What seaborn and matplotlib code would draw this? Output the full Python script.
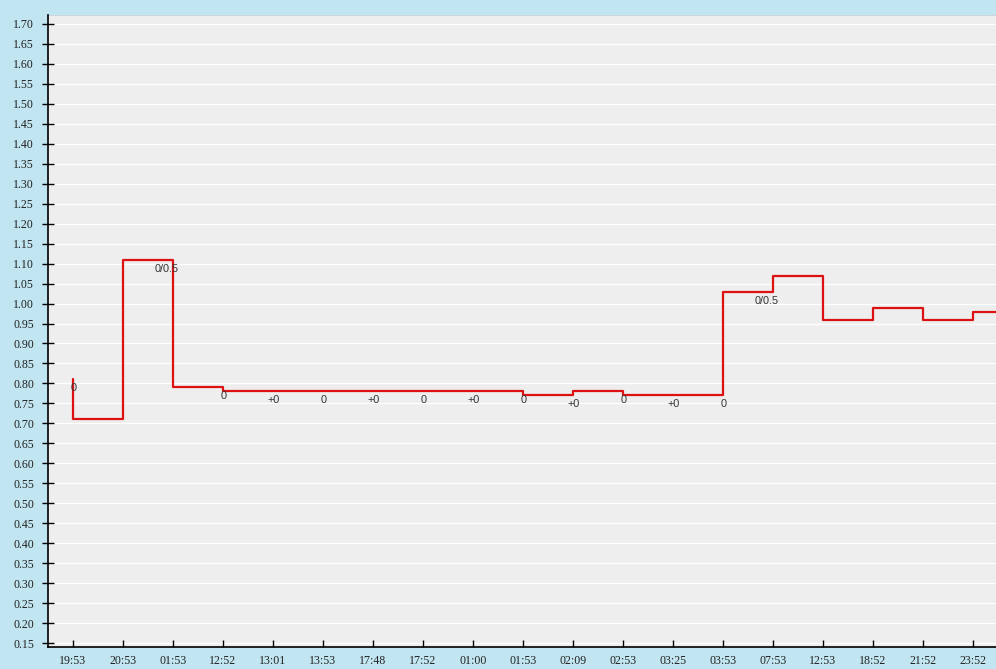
import numpy as np
import pandas as pd
import seaborn as sns
import matplotlib.pyplot as plt

# time labels on the x axis
times = ['19:53', '20:53', '01:53', '12:52', '13:01', '13:53', '17:48', '17:52', '01:00',
         '01:53', '02:09', '02:53', '03:25', '03:53', '07:53', '12:53', '18:52', '21:52', '23:52']

# point values (step drawn "pre"); last value continues past the right edge
values = [0.81, 0.71, 1.11, 0.79, 0.78, 0.78, 0.78, 0.78, 0.78, 0.78,
          0.77, 0.78, 0.77, 0.77, 1.03, 1.07, 0.96, 0.99, 0.96, 0.98]

# small notes under each point
notes = ['0', '', '0/0.5', '0', '+0', '0', '+0', '0', '+0', '0',
         '+0', '0', '+0', '0', '0/0.5', '', '', '', '']

df = pd.DataFrame({'idx': np.arange(len(values)), 'value': values})

sns.set_style("white")
plt.rcParams['font.family'] = ['Liberation Serif', 'DejaVu Serif']

fig = plt.figure(figsize=(9.96, 6.69), dpi=100)
fig.patch.set_facecolor('#c2e6f1')
ax = fig.add_axes([48 / 996, 22 / 669, 948 / 996, 632 / 669])
ax.set_facecolor('#eeeeee')

# white horizontal grid lines
yticks = np.round(np.arange(0.15, 1.701, 0.05), 2)
for y in yticks:
    ax.axhline(y, color='white', lw=0.9, zorder=0)

sns.lineplot(data=df, x='idx', y='value', drawstyle='steps-pre', color='#dd1111',
             linewidth=1.6, ax=ax, sort=False, errorbar=None, zorder=3)

for i, txt in enumerate(notes):
    if txt:
        dx = -6 if len(txt) > 2 else 1
        ax.annotate(txt, (i, values[i]), xytext=(dx, -9), textcoords='offset pixels',
                    ha='center', va='center', fontsize=7.8, color='#333333',
                    family=['Liberation Sans', 'DejaVu Sans'], zorder=4)

ax.set_xlim(-0.5, 18.46)
ax.set_ylim(0.14, 1.7225)
ax.set_xticks(range(len(times)))
ax.set_xticklabels(times)
ax.set_yticks(yticks)
ax.set_yticklabels([f'{v:.2f}' for v in yticks])
ax.set_xlabel('')
ax.set_ylabel('')

for side in ['top', 'right']:
    ax.spines[side].set_visible(False)
ax.spines['left'].set_color('black')
ax.spines['bottom'].set_color('black')
ax.spines['left'].set_linewidth(1.2)
ax.spines['bottom'].set_linewidth(1.2)
ax.axhline(1.7225, color='#c8d0d4', lw=1.2, zorder=1)

ax.tick_params(axis='y', direction='inout', length=8, width=1, color='black',
               labelsize=8.6, labelcolor='#222222', pad=6, left=True)
ax.tick_params(axis='x', direction='in', length=5, width=1, color='black',
               labelsize=8.6, labelcolor='#222222', pad=6, bottom=True)

fig.savefig('out.png', dpi=100, facecolor=fig.get_facecolor())
